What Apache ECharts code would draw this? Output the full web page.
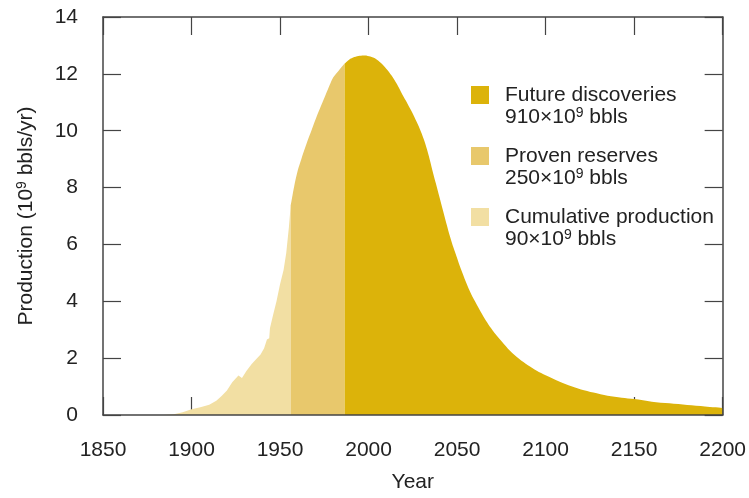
<!DOCTYPE html>
<html><head><meta charset="utf-8">
<script src="https://cdn.jsdelivr.net/npm/echarts@6/dist/echarts.min.js"></script>
<style>html,body{margin:0;padding:0;background:#fff}#c{width:749px;height:498px}</style>
</head><body><div id="c"></div>
<script>
// ---- data ----
const cumYears  = [1850, 1884, 1890, 1895, 1900, 1905, 1910, 1914, 1917, 1920, 1923, 1926.5, 1928.5, 1931, 1934, 1937, 1939, 1941, 1942.6, 1943.9, 1944.3, 1946, 1948, 1950, 1952, 1953.5, 1955, 1956];
const cumValues = [0, 0, 0.03, 0.1, 0.2, 0.27, 0.36, 0.5, 0.67, 0.86, 1.15, 1.39, 1.3, 1.55, 1.79, 2.0, 2.13, 2.35, 2.66, 2.7, 3.05, 3.5, 4.0, 4.6, 5.1, 5.7, 6.6, 7.35];

const provenYears  = [1956, 1958, 1960, 1962, 1965, 1968, 1971, 1974, 1977, 1980, 1983, 1986.5];
const provenValues = [7.35, 8.05, 8.6, 9.0, 9.55, 10.05, 10.55, 11.0, 11.45, 11.87, 12.1, 12.36];

const futureYears  = [1986.5, 1989, 1992, 1995, 1998, 2001, 2004, 2007, 2010, 2013, 2016, 2019, 2022, 2025, 2028, 2030, 2032, 2034, 2036, 2038, 2040, 2042, 2044, 2046, 2048, 2050, 2052, 2055, 2058, 2061, 2064, 2067, 2070, 2075, 2080, 2085, 2090, 2095, 2100, 2108, 2115, 2120, 2127, 2135, 2143, 2150, 2160, 2170, 2180, 2190, 2200];
const futureValues = [12.36, 12.5, 12.59, 12.64, 12.65, 12.61, 12.53, 12.38, 12.18, 11.94, 11.64, 11.28, 10.95, 10.6, 10.2, 9.9, 9.55, 9.12, 8.62, 8.15, 7.68, 7.2, 6.73, 6.28, 5.88, 5.52, 5.16, 4.68, 4.25, 3.9, 3.56, 3.25, 2.98, 2.6, 2.25, 1.98, 1.75, 1.56, 1.40, 1.17, 1.0, 0.9, 0.79, 0.68, 0.61, 0.56, 0.47, 0.41, 0.35, 0.3, 0.25];

const legendNames   = ['Future discoveries', 'Proven reserves', 'Cumulative production'];
const legendAmounts = ['910', '250', '90'];

const xMin = 1850, xMax = 2200, xStep = 50;
const yMin = 0, yMax = 14, yStep = 2;

// ---- styling ----
const FONT = 'Liberation Sans';
const FS = 21;
const TXT = '#222';
const AX = '#444';
const colFuture = '#DCB30A', colProven = '#E8C86C', colCum = '#F2DFA3';
const supStyle = { fontSize: 14, fontFamily: FONT, color: TXT, verticalAlign: 'top', lineHeight: 4 };

function zip(xs, ys) { return xs.map((x, i) => [x, ys[i]]); }
function area(name, xs, ys, color, smooth) {
  return {
    type: 'line', name: name, data: zip(xs, ys), xAxisIndex: 0, yAxisIndex: 0,
    symbol: 'none', showSymbol: false, silent: true, color: color, smooth: smooth,
    lineStyle: { width: 0 }, areaStyle: { color: color, opacity: 1 }, z: 2, animation: false
  };
}

const chart = echarts.init(document.getElementById('c'), null, { renderer: 'canvas' });
chart.setOption({
  animation: false,
  backgroundColor: '#fff',
  textStyle: { fontFamily: FONT },
  grid: { left: 103, right: 21, top: 17, bottom: 80, containLabel: false },
  xAxis: [
    { type: 'value', position: 'bottom', min: xMin, max: xMax, interval: xStep, z: 10,
      axisLine: { show: true, lineStyle: { color: AX, width: 1.5 } },
      axisTick: { show: false }, splitLine: { show: false },
      axisLabel: { fontSize: FS, fontFamily: FONT, color: TXT, margin: 25, formatter: v => String(v) },
      name: 'Year', nameLocation: 'middle', nameGap: 57,
      nameTextStyle: { fontSize: FS, fontFamily: FONT, color: TXT } },
    { type: 'value', position: 'bottom', min: xMin, max: xMax, interval: xStep, z: 0,
      axisLine: { show: false }, axisLabel: { show: false }, splitLine: { show: false },
      axisTick: { show: true, inside: true, length: 18, lineStyle: { color: AX, width: 1.2 } } },
    { type: 'value', position: 'top', min: xMin, max: xMax, interval: xStep, z: 10,
      axisLine: { show: true, lineStyle: { color: AX, width: 1.5 } }, axisLabel: { show: false }, splitLine: { show: false },
      axisTick: { show: true, inside: true, length: 18, lineStyle: { color: AX, width: 1.2 } } }
  ],
  yAxis: [
    { type: 'value', position: 'left', min: yMin, max: yMax, interval: yStep, z: 10,
      axisLine: { show: true, lineStyle: { color: AX, width: 1.5 } },
      axisTick: { show: true, inside: true, length: 18, lineStyle: { color: AX, width: 1.2 } },
      splitLine: { show: false },
      axisLabel: { fontSize: FS, fontFamily: FONT, color: TXT, margin: 25 },
      name: 'Production (10{sup|9} bbls/yr)', nameLocation: 'middle', nameGap: 66,
      nameTextStyle: { fontSize: FS, fontFamily: FONT, color: TXT, lineHeight: 22, rich: { sup: supStyle } } },
    { type: 'value', position: 'right', min: yMin, max: yMax, interval: yStep, z: 10,
      axisLine: { show: true, lineStyle: { color: AX, width: 1.5 } },
      axisTick: { show: true, inside: true, length: 18, lineStyle: { color: AX, width: 1.2 } },
      splitLine: { show: false }, axisLabel: { show: false } }
  ],
  legend: {
    data: legendNames, orient: 'vertical', left: 471, top: 62, padding: 0,
    icon: 'rect', itemWidth: 18, itemHeight: 18, itemGap: -5, selectedMode: false,
    itemStyle: { borderWidth: 0 },
    formatter: function (name) {
      const i = legendNames.indexOf(name);
      return name + '\n' + legendAmounts[i] + '×10{sup|9} bbls';
    },
    textStyle: { fontSize: FS, fontFamily: FONT, color: TXT, lineHeight: 22, padding: [22, 0, 0, 11], rich: { sup: supStyle } }
  },
  series: [
    area('Cumulative production', cumYears, cumValues, colCum, false),
    area('Proven reserves', provenYears, provenValues, colProven, 0.3),
    area('Future discoveries', futureYears, futureValues, colFuture, 0.3)
  ]
});
</script>
</body></html>
